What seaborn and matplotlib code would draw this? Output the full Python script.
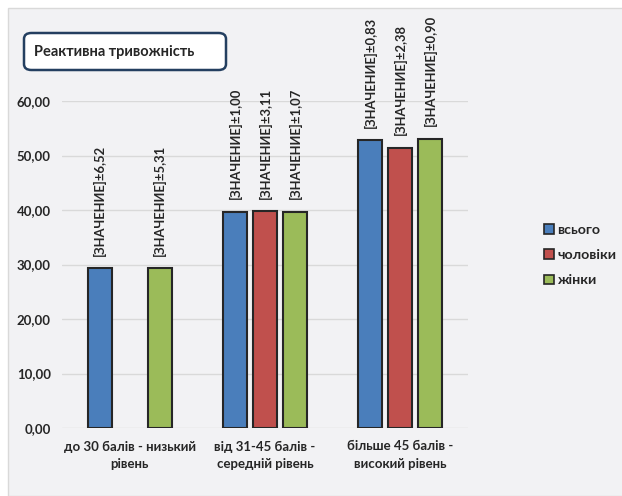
import numpy as np
import pandas as pd
import matplotlib.pyplot as plt
import seaborn as sns
from matplotlib.patches import Rectangle, FancyBboxPatch

# chart values
categories = ['до 30 балів - низький\nрівень',
              'від 31-45 балів -\nсередній рівень',
              'більше 45 балів -\nвисокий рівень']
series = ['всього', 'чоловіки', 'жінки']
total = [29.3, 39.7, 52.8]
men = [np.nan, 39.8, 51.4]
women = [29.3, 39.7, 53.1]
err_total = [6.52, 1.00, 0.83]
err_men = [np.nan, 3.11, 2.38]
err_women = [5.31, 1.07, 0.90]
colors = ['#4A7EBB', '#C0504D', '#9BBB59']

df = pd.DataFrame({
    'category': categories * 3,
    'group': [s for s in series for _ in categories],
    'value': total + men + women,
})
errors = {'всього': err_total, 'чоловіки': err_men, 'жінки': err_women}

sns.set_style('white')
plt.rcParams['font.family'] = ['Lato', 'DejaVu Sans']
plt.rcParams['font.weight'] = 'bold'

fig = plt.figure(figsize=(6.22, 4.96), dpi=100)
fig.patch.set_facecolor('white')
fig.patches.append(Rectangle((8 / 622, 0), 1, 1 - 8 / 496, transform=fig.transFigure,
                             facecolor='#F2F2F4', edgecolor='#D9D9D9', lw=1, zorder=-10))

ax = fig.add_axes([62 / 622, 68 / 496, 406 / 622, 327 / 496])
ax.set_facecolor('none')

sns.barplot(data=df, x='category', y='value', hue='group', order=categories,
            hue_order=series, palette=colors, saturation=1, width=0.667, gap=0.2,
            edgecolor='#262626', linewidth=1.5, ax=ax, legend=True, zorder=3)

ax.set_ylim(0, 60)
ax.set_xlim(-0.5, 2.5)
ax.set_yticks(range(0, 61, 10))
ax.set_yticklabels([f'{v},00' for v in range(0, 61, 10)], fontsize=9.5, fontweight='bold')
ax.grid(axis='y', color='#D9D9D9', lw=1, zorder=0)
ax.tick_params(axis='y', length=0, pad=8)
ax.tick_params(axis='x', length=0, pad=9)
for lbl in ax.get_xticklabels():
    lbl.set_fontsize(9.5)
    lbl.set_fontweight('bold')
    lbl.set_linespacing(1.55)
ax.set_xlabel('')
ax.set_ylabel('')
sns.despine(ax=ax, left=True, bottom=True)

# rotated data labels above the bars
for name, cont in zip(series, ax.containers):
    for bar in cont:
        h = bar.get_height()
        if np.isnan(h) or h == 0:
            continue
        xc = bar.get_x() + bar.get_width() / 2
        idx = int(round(xc))
        ax.annotate(f'[ЗНАЧЕНИЕ]±{errors[name][idx]:.2f}'.replace('.', ','),
                    (xc, h), xytext=(0, 9), textcoords='offset points',
                    rotation=90, ha='center', va='bottom', fontsize=9.4,
                    fontweight='bold', annotation_clip=False)

leg = ax.legend(loc='center left', bbox_to_anchor=(544 / 622, 1 - 255 / 496),
                bbox_transform=fig.transFigure, frameon=False, handlelength=0.7,
                handleheight=0.7, handletextpad=0.25, labelspacing=0.95,
                borderpad=0, borderaxespad=0, prop={'size': 10.2, 'weight': 'bold'})
for h in leg.legend_handles:
    h.set_edgecolor('#262626')
    h.set_linewidth(1.2)

# title box
fig.patches.append(FancyBboxPatch((24 / 622, 1 - 70 / 496), 202 / 622, 37 / 496,
                                  boxstyle='round,pad=0,rounding_size=0.012',
                                  transform=fig.transFigure, facecolor='white',
                                  edgecolor='#243F60', lw=1.8))
fig.text(34 / 622, 1 - 52 / 496, 'Реактивна тривожність', fontsize=10.5,
         fontweight='bold', va='center', ha='left')

plt.savefig('out.png', dpi=100)
